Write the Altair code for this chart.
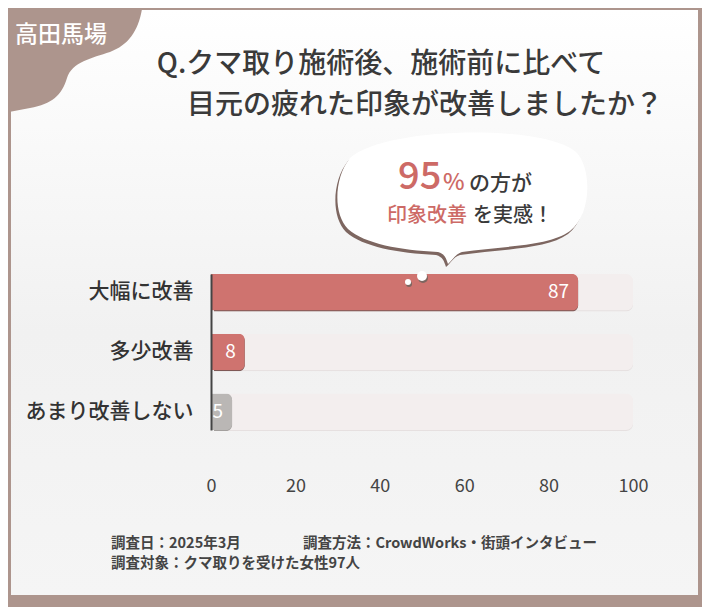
import altair as alt
import pandas as pd

FONT = "Noto Sans CJK JP"

# ---- data ----
categories = ["大幅に改善", "多少改善", "あまり改善しない"]
values = [87, 8, 5]
groups = ["改善", "改善", "非改善"]
full_values = [100, 100, 100]
x_tick_values = [0, 20, 40, 60, 80, 100]

tab_text = "高田馬場"
title_line1 = "Q.クマ取り施術後、施術前に比べて"
title_line2 = "目元の疲れた印象が改善しましたか？"
bubble_pct = "95"
bubble_pct_sign = "%"
bubble_line1_rest = "の方が"
bubble_line2_red = "印象改善"
bubble_line2_rest = "を実感！"
footer_date = "調査日：2025年3月"
footer_method = "調査方法：CrowdWorks・街頭インタビュー"
footer_target = "調査対象：クマ取りを受けた女性97人"

df = pd.DataFrame({"category": categories, "value": values,
                   "group": groups, "full": full_values})

# ---- styles ----
BROWN = "#ad958d"
RED = "#cf736f"
RED_SHADOW = "#7b5856"
GRAY = "#bab7b5"
GRAY_SHADOW = "#a3a09e"
TRACK = "#f3eeee"
TRACK_SHADOW = "#e6e0e0"
DARK = "#3a3a3a"
RED_TEXT = "#cd6a66"

W, H = 422, 156
OX, OY = 211, 274  # plot origin in page pixels


def px(x):
    return x - OX


def py(y):
    return y - OY


one = alt.Data(values=[{"k": 0}])

TAB_PATH = ("M 9 9 L 142 9 C 138 32 128 45 110 52 C 92 58 72 62 67 78 "
            "C 62 95 52 104 30 108 L 9 112 Z")
BUBBLE_PATH = ("M 350 158 C 385 126 545 124 576 152 C 592 168 592 214 570 231 "
               "C 548 247 500 246 462 252 C 455 254 452 261 448 264 "
               "C 446 258 445 254 438 252 C 400 250 365 244 348 229 "
               "C 333 214 334 178 350 158 Z")


def shape(path, color, dx=0, dy=0):
    return alt.Chart(one).mark_point(
        shape=path, size=4, filled=True, fill=color, opacity=1,
        strokeWidth=0, strokeOpacity=0
    ).encode(x=alt.value(px(0) + dx), y=alt.value(py(0) + dy))


def dot(x, y, r, color):
    return alt.Chart(one).mark_point(
        shape="circle", size=(2 * r) ** 2, filled=True, fill=color,
        opacity=1, strokeWidth=0, strokeOpacity=0
    ).encode(x=alt.value(px(x)), y=alt.value(py(y)))


def label(text, x, y, size, color, align="left", weight="normal",
          baseline="middle"):
    return alt.Chart(one).mark_text(
        text=text, align=align, baseline=baseline, fontSize=size,
        color=color, font=FONT, fontWeight=weight
    ).encode(x=alt.value(px(x)), y=alt.value(py(y)))


panel = alt.Chart(one).mark_rect(
    color=alt.Gradient(
        gradient="linear",
        stops=[alt.GradientStop(color="#ffffff", offset=0),
               alt.GradientStop(color="#f1f1f1", offset=0.55),
               alt.GradientStop(color="#f5f5f5", offset=1)],
        x1=0, x2=0, y1=0, y2=1)
).encode(x=alt.value(px(11)), x2=alt.value(px(698)),
         y=alt.value(py(10)), y2=alt.value(py(595)))

tab = shape(TAB_PATH, BROWN)

y_enc = alt.Y("category:N", sort=categories,
              scale=alt.Scale(paddingInner=0.387, paddingOuter=0),
              axis=alt.Axis(title=None, ticks=False, labelFont=FONT,
                            labelFontSize=21, labelFontWeight=500,
                            labelColor="#333333",
                            labelPadding=18, domainColor="#444444",
                            domainWidth=2, zindex=1))
x_scale = alt.Scale(domain=[0, 100])
x_axis = alt.Axis(values=x_tick_values, title=None, grid=False, domain=False,
                  ticks=False, labelPadding=47, labelFontSize=18,
                  labelFont=FONT, labelColor="#444444", labelFlush=False,
                  zindex=1)

base = alt.Chart(df)

track_shadow = base.mark_bar(cornerRadius=7, xOffset=2, yOffset=1,
                             color=TRACK_SHADOW).encode(
    x=alt.X("full:Q", scale=x_scale, axis=x_axis), y=y_enc)
track = base.mark_bar(cornerRadius=7, color=TRACK).encode(
    x=alt.X("full:Q", scale=x_scale), y=y_enc)

is_good = alt.datum.group == "改善"
bar_shadow = base.mark_bar(cornerRadiusTopRight=6, cornerRadiusBottomRight=6,
                           xOffset=3, yOffset=1).encode(
    x=alt.X("value:Q", scale=x_scale), y=y_enc,
    color=alt.condition(is_good, alt.value(RED_SHADOW), alt.value(GRAY_SHADOW)))
bars = base.mark_bar(cornerRadiusTopRight=6, cornerRadiusBottomRight=6).encode(
    x=alt.X("value:Q", scale=x_scale), y=y_enc,
    color=alt.condition(is_good, alt.value(RED), alt.value(GRAY)))
value_text = base.mark_text(align="right", baseline="middle", dx=-9,
                            fontSize=19, color="white", font=FONT).encode(
    x=alt.X("value:Q", scale=x_scale), y=y_enc, text="value:Q")

bubble_shadow = shape(BUBBLE_PATH, "#7d6660", dx=-2, dy=3)
bubble = shape(BUBBLE_PATH, "#ffffff")

dots = [dot(423, 278, 5, "#7d6660"), dot(422, 276, 5, "#ffffff"),
        dot(409, 284, 3, "#7d6660"), dot(408, 282, 3, "#ffffff")]

texts = [
    label(tab_text, 61, 35, 23, "#ffffff", align="center", weight=500),
    label(title_line1, 381, 65, 28, DARK, align="center", weight=500),
    label(title_line2, 425, 106, 28, DARK, align="center", weight=500),
    label(bubble_pct, 398, 178, 38, RED_TEXT, weight=500),
    label(bubble_pct_sign, 443, 183, 23, RED_TEXT, weight=500),
    label(bubble_line1_rest, 469, 184, 21, DARK, weight=500),
    label(bubble_line2_red, 387, 216, 20, RED_TEXT, weight=500),
    label(bubble_line2_rest, 473, 216, 20, DARK, weight=500),
    label(footer_date, 111, 544, 14.5, "#444444", weight="bold"),
    label(footer_method, 303, 544, 14.5, "#444444", weight="bold"),
    label(footer_target, 111, 564, 14.5, "#444444", weight="bold"),
]

chart = alt.layer(
    panel, tab, track_shadow, track, bar_shadow, bars, value_text,
    bubble_shadow, bubble, *dots, *texts
).properties(
    width=W, height=H,
    padding={"left": 203, "top": 266, "right": 69, "bottom": 177},
    autosize=alt.AutoSizeParams(type="none"),
).configure(background=BROWN).configure_view(strokeWidth=0)

chart.save("out.html", embed_options={"renderer": "svg", "actions": False})
